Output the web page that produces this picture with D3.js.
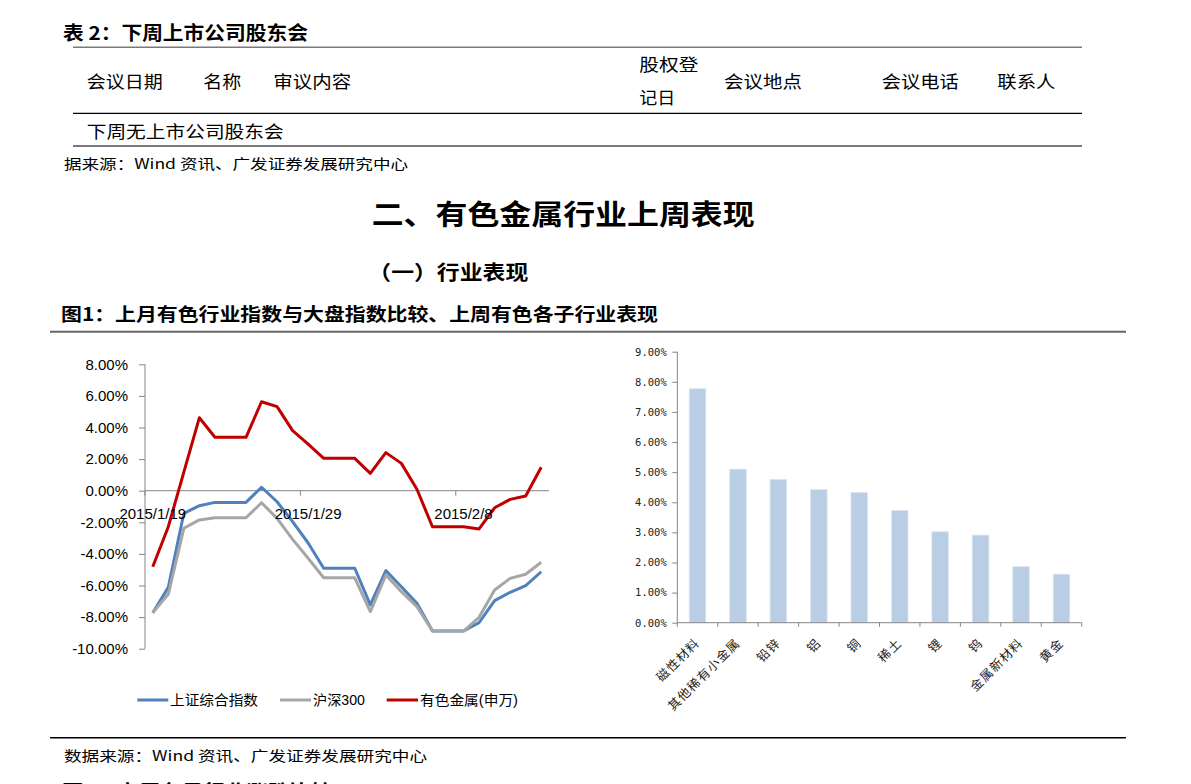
<!DOCTYPE html>
<html><head><meta charset="utf-8">
<script src="https://cdn.jsdelivr.net/npm/d3@7/dist/d3.min.js"></script>
<style>
html,body{margin:0;padding:0;background:#fff;}
svg{display:block;}
</style></head>
<body>
<script>
// ---------- DATA ----------
const dates = ["2015/1/19","2015/1/20","2015/1/21","2015/1/22","2015/1/23","2015/1/24","2015/1/25","2015/1/26","2015/1/27","2015/1/28","2015/1/29","2015/1/30","2015/1/31","2015/2/1","2015/2/2","2015/2/3","2015/2/4","2015/2/5","2015/2/6","2015/2/7","2015/2/8","2015/2/9","2015/2/10","2015/2/11","2015/2/12","2015/2/13"];
const shIndex = [-7.72,-6.12,-1.43,-0.95,-0.74,-0.74,-0.74,0.22,-0.70,-1.96,-3.31,-4.91,-4.91,-4.91,-7.23,-5.06,-6.08,-7.13,-8.88,-8.88,-8.88,-8.35,-6.96,-6.43,-6.01,-5.13];
const hs300 = [-7.72,-6.54,-2.38,-1.85,-1.71,-1.71,-1.71,-0.76,-1.75,-3.08,-4.28,-5.51,-5.51,-5.51,-7.66,-5.34,-6.39,-7.34,-8.88,-8.88,-8.88,-8.01,-6.28,-5.55,-5.29,-4.53];
const metals = [-4.81,-2.28,1.18,4.62,3.38,3.38,3.38,5.63,5.32,3.80,2.95,2.05,2.05,2.05,1.10,2.41,1.73,0.09,-2.28,-2.28,-2.28,-2.42,-1.08,-0.55,-0.34,1.48];
const seriesNames = ["上证综合指数","沪深300","有色金属(申万)"];
const lineXTickLabels = ["2015/1/19","2015/1/29","2015/2/8"];
const lineYTicks = [8,6,4,2,0,-2,-4,-6,-8,-10];

const subIndustries = ["磁性材料","其他稀有小金属","铅锌","铝","铜","稀土","锂","钨","金属新材料","黄金"];
const subReturns = [7.77,5.10,4.76,4.42,4.33,3.73,3.02,2.91,1.86,1.61];
const barYTicks = [0,1,2,3,4,5,6,7,8,9];

const tableHeaders = ["会议日期","名称","审议内容","会议地点","会议电话","联系人"];

// ---------- PAGE ----------
const W = 1191, H = 784;
const svg = d3.select("body").append("svg").attr("width", W).attr("height", H);
svg.append("rect").attr("width", W).attr("height", H).attr("fill", "#fff");

const CJK = "'Noto Sans CJK SC', 'Noto Sans', sans-serif";
const ARIAL = "'Liberation Sans', Arial, 'Noto Sans CJK SC', sans-serif";

function txt(s, x, y, size, len, opts = {}) {
  const t = svg.append("text").attr("x", x).attr("y", y)
    .attr("dominant-baseline", "central")
    .attr("font-family", opts.family || CJK)
    .attr("font-size", size)
    .attr("font-weight", opts.weight || "normal")
    .attr("fill", opts.fill || "#000")
    .text(s);
  if (len) t.attr("textLength", len).attr("lengthAdjust", "spacingAndGlyphs");
  return t;
}
function hline(x1, x2, y, color, w) {
  svg.append("line").attr("x1", x1).attr("x2", x2).attr("y1", y).attr("y2", y)
    .attr("stroke", color).attr("stroke-width", w);
}

// Table 2
txt("表 2：下周上市公司股东会", 63, 31, 19, 245, {weight: "bold"});
hline(73, 1082, 47.3, "#7a7a7a", 1.6);
hline(73, 1082, 113.3, "#000", 1.3);
hline(73, 1082, 146, "#7a7a7a", 2);
txt(tableHeaders[0], 86.7, 80, 17, 76);
txt(tableHeaders[1], 203.3, 80, 17, 38);
txt(tableHeaders[2], 273.3, 80, 17, 78);
txt("股权登", 639.3, 63.3, 17, 59);
txt("记日", 639.3, 96.7, 17, 36);
txt(tableHeaders[3], 724, 80, 17, 78);
txt(tableHeaders[4], 881.7, 80, 17, 77);
txt(tableHeaders[5], 997.3, 80, 17, 58);
txt("下周无上市公司股东会", 86.7, 130, 17, 197);
txt("据来源：Wind 资讯、广发证券发展研究中心", 64, 163, 14, 344);

// Headings
txt("二、有色金属行业上周表现", 371.7, 213, 28, 383, {weight: "bold"});
txt("（一）行业表现", 368.3, 271.7, 20, 160, {weight: "bold"});
txt("图1：上月有色行业指数与大盘指数比较、上周有色各子行业表现", 61, 313, 18, 597, {weight: "bold"});
hline(50, 1126, 331.7, "#666", 2);

// Footer
hline(50, 1126, 737.7, "#000", 1.5);
txt("数据来源：Wind 资讯、广发证券发展研究中心", 64, 755, 14, 363);
txt("图2：上周各子行业涨跌比较", 62, 790, 19, 270, {weight: "bold"});

// ---------- LINE CHART ----------
const lx = d3.scaleBand().domain(dates).range([145, 549]).padding(0);
const ly = d3.scaleLinear().domain([-10, 8]).range([648.7, 364.3]);
const bw = lx.bandwidth();
const axisColor = "#868686";

const gLine = svg.append("g");
const yAx = gLine.append("g").attr("transform", "translate(145,0)")
  .call(d3.axisLeft(ly).tickValues(lineYTicks).tickSize(6).tickPadding(11)
    .tickFormat(d => d.toFixed(2) + "%"));
yAx.select(".domain").attr("stroke", axisColor).attr("d", `M-0,${ly(-10)}H0V${ly(8)}H-0`);
yAx.selectAll(".tick line").attr("stroke", axisColor);
yAx.selectAll(".tick text").attr("font-family", ARIAL).attr("font-size", 15).attr("fill", "#000");

gLine.append("line").attr("x1", 145).attr("x2", 549).attr("y1", ly(0)).attr("y2", ly(0))
  .attr("stroke", axisColor).attr("stroke-width", 1);
lineXTickLabels.forEach(lab => {
  const xs = lx(lab);
  gLine.append("line").attr("x1", xs).attr("x2", xs).attr("y1", ly(0)).attr("y2", ly(0) + 5)
    .attr("stroke", axisColor);
});

const line = d3.line().x((d, i) => lx(dates[i]) + bw / 2).y(d => ly(d));
const colors = ["#4F81BD", "#A6A6A6", "#C00000"];
[shIndex, hs300, metals].forEach((s, k) => {
  gLine.append("path").attr("d", line(s)).attr("fill", "none")
    .attr("stroke", colors[k]).attr("stroke-width", 3).attr("stroke-linejoin", "round");
});

lineXTickLabels.forEach(lab => {
  gLine.append("text").attr("x", lx(lab) + bw / 2).attr("y", 513)
    .attr("text-anchor", "middle").attr("dominant-baseline", "central")
    .attr("font-family", ARIAL).attr("font-size", 15).attr("fill", "#000").text(lab);
});

const legendItems = [
  {x1: 137.3, x2: 168.3, tx: 170, len: 88},
  {x1: 280, x2: 311, tx: 313, len: 52},
  {x1: 386.7, x2: 418, tx: 420, len: 98}
];
legendItems.forEach((it, k) => {
  gLine.append("line").attr("x1", it.x1).attr("x2", it.x2).attr("y1", 700).attr("y2", 700)
    .attr("stroke", colors[k]).attr("stroke-width", 3);
  gLine.append("text").attr("x", it.tx).attr("y", 700).attr("dominant-baseline", "central")
    .attr("font-family", ARIAL).attr("font-size", 14).attr("fill", "#000")
    .attr("textLength", it.len).attr("lengthAdjust", "spacingAndGlyphs")
    .text(seriesNames[k]);
});

// ---------- BAR CHART ----------
const bx = d3.scaleBand().domain(subIndustries).range([677.3, 1081.7])
  .paddingInner(0.59).paddingOuter(0.295);
const by = d3.scaleLinear().domain([0, 9]).range([622.7, 351.7]);
const gBar = svg.append("g");

gBar.selectAll("rect.bar").data(subReturns).enter().append("rect")
  .attr("class", "bar")
  .attr("x", (d, i) => bx(subIndustries[i]))
  .attr("y", d => by(d))
  .attr("width", bx.bandwidth())
  .attr("height", d => by(0) - by(d))
  .attr("fill", "#B9CDE5")
  .attr("stroke", "#DCE6F2").attr("stroke-width", 0.8);

const byAx = gBar.append("g").attr("transform", "translate(677.3,0)")
  .call(d3.axisLeft(by).tickValues(barYTicks).tickSize(5).tickPadding(5.6)
    .tickFormat(d => d.toFixed(2) + "%"));
byAx.select(".domain").attr("stroke", axisColor).attr("d", `M0,${by(0)}V${by(9)}`);
byAx.selectAll(".tick line").attr("stroke", axisColor);
byAx.selectAll(".tick text").attr("font-family", "'DejaVu Sans Mono', 'Liberation Mono', monospace")
  .attr("font-size", 10.5).attr("fill", "#222");

gBar.append("line").attr("x1", 677.3).attr("x2", 1081.7).attr("y1", by(0)).attr("y2", by(0))
  .attr("stroke", axisColor);
const boundaries = subIndustries.map(c => bx(c) - bx.step() * bx.paddingInner() / 2).concat([1081.7]);
boundaries.forEach(xb => {
  gBar.append("line").attr("x1", xb).attr("x2", xb).attr("y1", by(0)).attr("y2", by(0) + 4)
    .attr("stroke", axisColor);
});
subIndustries.forEach(c => {
  const cx = bx(c) + bx.bandwidth() / 2;
  gBar.append("text")
    .attr("transform", `translate(${cx + 3},${by(0) + 21}) rotate(-45)`)
    .attr("text-anchor", "end")
    .attr("font-family", CJK).attr("font-size", 12.5).attr("letter-spacing", 1.2)
    .attr("fill", "#222").text(c);
});
</script>
</body></html>
